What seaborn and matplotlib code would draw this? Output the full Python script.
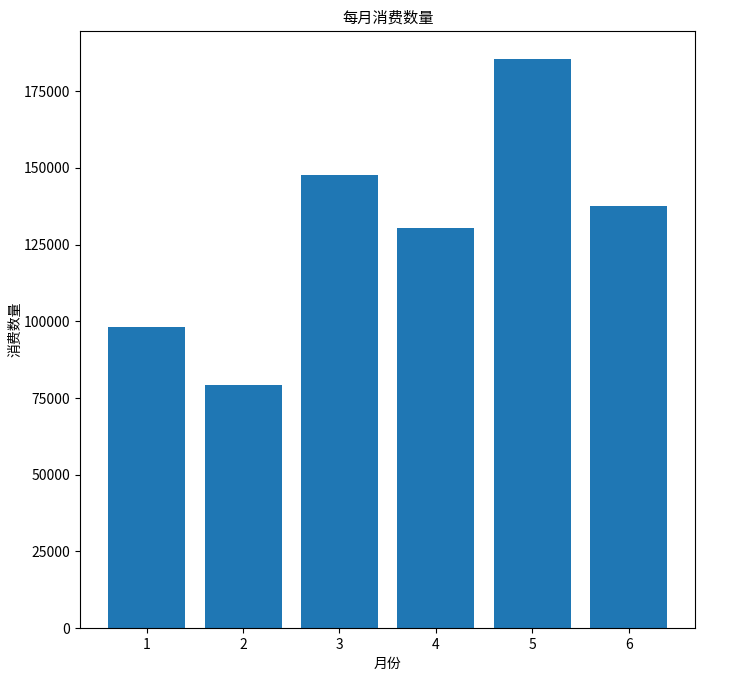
import pandas as pd
import matplotlib
matplotlib.use('Agg')
import matplotlib.pyplot as plt
import seaborn as sns

# monthly consumption counts
months = [1, 2, 3, 4, 5, 6]
counts = [98200, 79400, 147800, 130300, 185400, 137600]

plt.rcParams['font.family'] = ['Noto Sans CJK SC', 'DejaVu Sans']
plt.rcParams['axes.unicode_minus'] = False

df = pd.DataFrame({'月份': months, '消费数量': counts})

fig, ax = plt.subplots(figsize=(7.42, 6.85), dpi=100)
fig.subplots_adjust(left=0.108, right=0.937, top=0.955, bottom=0.083)

sns.barplot(data=df, x='月份', y='消费数量', color='#1f77b4', saturation=1,
            width=0.8, ax=ax)

# matplotlib-style 5% margins around the bars instead of seaborn's categorical limits
n = len(months)
pad = 0.05 * (n - 1 + 0.8)
ax.set_xlim(-0.4 - pad, n - 1 + 0.4 + pad)

ax.set_title('每月消费数量', fontsize=11)
ax.set_xlabel('月份', fontsize=10)
ax.set_ylabel('消费数量', fontsize=10, labelpad=1)

plt.savefig('out.png', dpi=100)
